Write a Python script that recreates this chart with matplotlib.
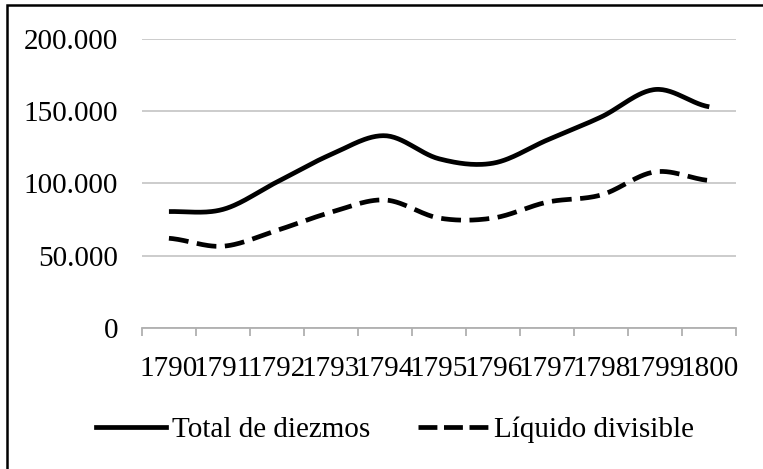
import numpy as np
import matplotlib
matplotlib.use('Agg')
import matplotlib.pyplot as plt
from matplotlib.lines import Line2D

years = ['1790', '1791', '1792', '1793', '1794', '1795', '1796', '1797', '1798', '1799', '1800']
total = [80500, 82000, 101000, 120000, 133000, 117000, 114000, 130000, 146000, 165000, 153000]
liquido = [62000, 56500, 67500, 80000, 88500, 76000, 76000, 87000, 92000, 108000, 102000]
yticks = [0, 50000, 100000, 150000, 200000]
ylabels = ['0', '50.000', '100.000', '150.000', '200.000']

plt.rcParams['font.family'] = ['Liberation Serif', 'DejaVu Serif']

# smooth like the excel "smoothed line" (catmull-rom through the points)
def smooth(y, n=30):
    y = np.asarray(y, float)
    p = np.concatenate([[y[0]], y, [y[-1]]])
    xs, ys = [], []
    for i in range(len(y) - 1):
        p0, p1, p2, p3 = p[i], p[i+1], p[i+2], p[i+3]
        t = np.linspace(0, 1, n)
        c = 0.5 * ((2*p1) + (-p0 + p2)*t + (2*p0 - 5*p1 + 4*p2 - p3)*t**2 + (-p0 + 3*p1 - 3*p2 + p3)*t**3)
        xs.append(i + t); ys.append(c)
    return np.concatenate(xs), np.concatenate(ys)

fig = plt.figure(figsize=(7.63, 4.69), dpi=100)
ax = fig.add_axes([0.186, 0.301, 0.779, 0.616])

x = np.arange(len(years))
xt, yt = smooth(total)
xl, yl = smooth(liquido)
ax.plot(xt, yt, color='black', lw=3.4, solid_capstyle='butt')
ax.plot(xl, yl, color='black', lw=3.4, dashes=(4.2, 1.8), dash_capstyle='butt')

ax.set_xlim(-0.5, len(years) - 0.5)
ax.set_ylim(0, 200000)
ax.set_yticks(yticks)
ax.set_yticklabels(ylabels, fontsize=21)
ax.tick_params(axis='y', length=0, pad=17)
ax.grid(axis='y', color='#c8c8c8', lw=1.3)
ax.set_axisbelow(True)

ax.set_xticks(np.arange(-0.5, len(years)))
ax.set_xticklabels([])
ax.set_xticks(x, minor=True)
ax.set_xticklabels(years, minor=True, fontsize=21)
ax.tick_params(axis='x', which='major', length=6, width=1.3, color='#b0b0b0', direction='out')
ax.tick_params(axis='x', which='minor', length=0, pad=20)

for s in ['top', 'right', 'left']:
    ax.spines[s].set_visible(False)
ax.spines['bottom'].set_color('#b0b0b0')
ax.spines['bottom'].set_linewidth(1.3)

handles = [Line2D([], [], color='black', lw=3.4),
           Line2D([], [], color='black', lw=3.4, dashes=(4.0, 1.4))]
fig.legend(handles, ['Total de diezmos', 'Líquido divisible'], loc='center',
           bbox_to_anchor=(0.518, 0.083), ncol=2, frameon=False, fontsize=21,
           handlelength=2.4, handletextpad=0.2, columnspacing=1.65)

# border of the figure (left and top visible)
fig.add_artist(plt.Rectangle((7/763, -0.05), 1.2, 1 - 5/469 + 0.05, transform=fig.transFigure,
                             fill=False, edgecolor='black', lw=1.8))

fig.savefig('out.png', dpi=100)
